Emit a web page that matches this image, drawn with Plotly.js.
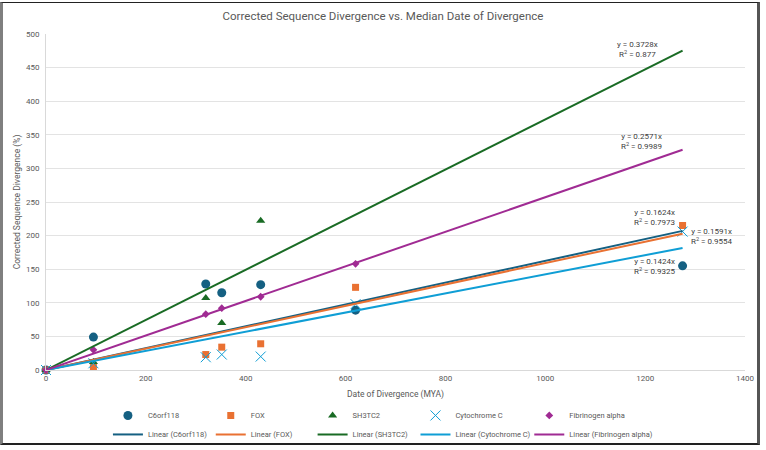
<!DOCTYPE html>
<html>
<head>
<meta charset="utf-8">
<script src="https://cdn.plot.ly/plotly-3.0.1.min.js"></script>
<style>
  html, body { margin: 0; padding: 0; background: #fff; }
  #wrap { position: relative; width: 766px; height: 450px; }
  #chart { width: 766px; height: 450px; }
  #frame {
    position: absolute; left: 0; top: 2px; width: 760px; height: 443px;
    border-left: 3px solid #7f7f7f; border-top: 1px solid #222;
    border-right: 3px solid #555; border-bottom: 2px solid #222;
    box-sizing: border-box; pointer-events: none;
  }
</style>
</head>
<body>
<div id="wrap">
  <div id="chart"></div>
  <div id="frame"></div>
</div>
<script>
// median date of divergence (MYA)
const dates = [0, 95, 320, 352, 430, 620, 1275];
const datesShort = [0, 95, 320, 352, 430];
const datesFib = [0, 95, 320, 352, 430, 620];

// corrected sequence divergence (%)
const c6orf118 = [0, 49, 128, 115, 127, 89, 155];
const fox = [0, 5, 23, 34, 39, 123, 215];
const sh3tc2 = [0, 12, 107, 70, 222];
const cytochromeC = [0, 10, 19, 23, 20, 98, 206];
const fibrinogen = [0, 30, 83, 92, 109, 158];

const names = ['C6orf118', 'FOX', 'SH3TC2', 'Cytochrome C', 'Fibrinogen alpha'];
const colors = ['#156082', '#E97132', '#196B24', '#0F9ED5', '#A02B93'];
const slopes = [0.1624, 0.1591, 0.3728, 0.1424, 0.2571];
const rSquared = ['0.7973', '0.9554', '0.877', '0.9325', '0.9989'];
const trendRange = [0, 1275];

const xs = [dates, dates, datesShort, dates, datesFib];
const ys = [c6orf118, fox, sh3tc2, cytochromeC, fibrinogen];
const markers = [
    {symbol: 'circle', size: 9},
    {symbol: 'square', size: 7},
    {symbol: 'triangle-up', size: 8},
    {symbol: 'x-thin-open', size: 10},
    {symbol: 'diamond', size: 6},
];

// one legend column per gene: marker entry on top, trendline below
const legendId = function (i) { return i === 0 ? 'legend' : 'legend' + (i + 1); };
const legendX = [0.0886, 0.2357, 0.3814, 0.5286, 0.6914];

const traces = [];
names.forEach(function (n, i) {
    traces.push({
        type: 'scatter', mode: 'markers', name: n, legend: legendId(i),
        x: xs[i], y: ys[i],
        marker: {
            symbol: markers[i].symbol, size: markers[i].size, color: colors[i],
            line: {color: colors[i], width: markers[i].symbol === 'x-thin-open' ? 1 : 0}
        },
        cliponaxis: false,
    });
});
names.forEach(function (n, i) {
    traces.push({
        type: 'scatter', mode: 'lines', name: 'Linear (' + n + ')', legend: legendId(i),
        x: trendRange, y: trendRange.map(function (x) { return slopes[i] * x; }),
        line: {color: colors[i], width: 2},
        hoverinfo: 'skip',
    });
});

// equation label spots (data coords)
const labelX = [1219, 1333, 1185, 1219, 1193];
const labelY = [227, 198, 477, 154, 340];
const annotations = names.map(function (n, i) {
    return {
        x: labelX[i], y: labelY[i], xref: 'x', yref: 'y',
        text: 'y = ' + slopes[i] + 'x<br>R<sup>2</sup> = ' + rSquared[i],
        showarrow: false, align: 'center',
        font: {size: 8, color: '#404040'},
    };
});

const grey = '#595959';
const layout = {
    width: 766, height: 450,
    margin: {l: 46, r: 21, t: 34, b: 80, pad: 0},
    paper_bgcolor: '#fff', plot_bgcolor: '#fff',
    font: {family: 'Roboto, "Noto Sans", sans-serif', color: grey, size: 8},
    title: {
        text: 'Corrected Sequence Divergence vs. Median Date of Divergence',
        font: {size: 11.5, color: grey}, x: 0.5, xanchor: 'center', y: 0.965, yanchor: 'middle',
    },
    xaxis: {
        range: [0, 1400], dtick: 200, tick0: 0,
        showgrid: false, zeroline: false,
        showline: true, linecolor: '#d9d9d9', linewidth: 1,
        ticks: '', tickfont: {size: 8, color: grey},
        title: {text: 'Date of Divergence (MYA)', font: {size: 8.5, color: grey}, standoff: 9},
    },
    yaxis: {
        range: [0, 500], dtick: 50, tick0: 0,
        showgrid: true, gridcolor: '#e3e3e3', gridwidth: 1,
        zeroline: false, showline: true, linecolor: '#d9d9d9', linewidth: 1,
        ticks: '', tickfont: {size: 8, color: grey}, ticklabelstandoff: 4,
        title: {text: 'Corrected Sequence Divergence (%)', font: {size: 8.5, color: grey}, standoff: 3},
    },
    annotations: annotations,
    showlegend: true,
};
legendX.forEach(function (lx, i) {
    layout[legendId(i)] = {
        orientation: 'v', x: lx, xanchor: 'left', xref: 'paper',
        y: 0.109, yanchor: 'top', yref: 'container',
        itemwidth: 30, tracegroupgap: 0,
        font: {size: 7.5, color: grey}, bgcolor: 'rgba(0,0,0,0)',
    };
});

Plotly.newPlot('chart', traces, layout, {displayModeBar: false, staticPlot: true});
</script>
</body>
</html>
